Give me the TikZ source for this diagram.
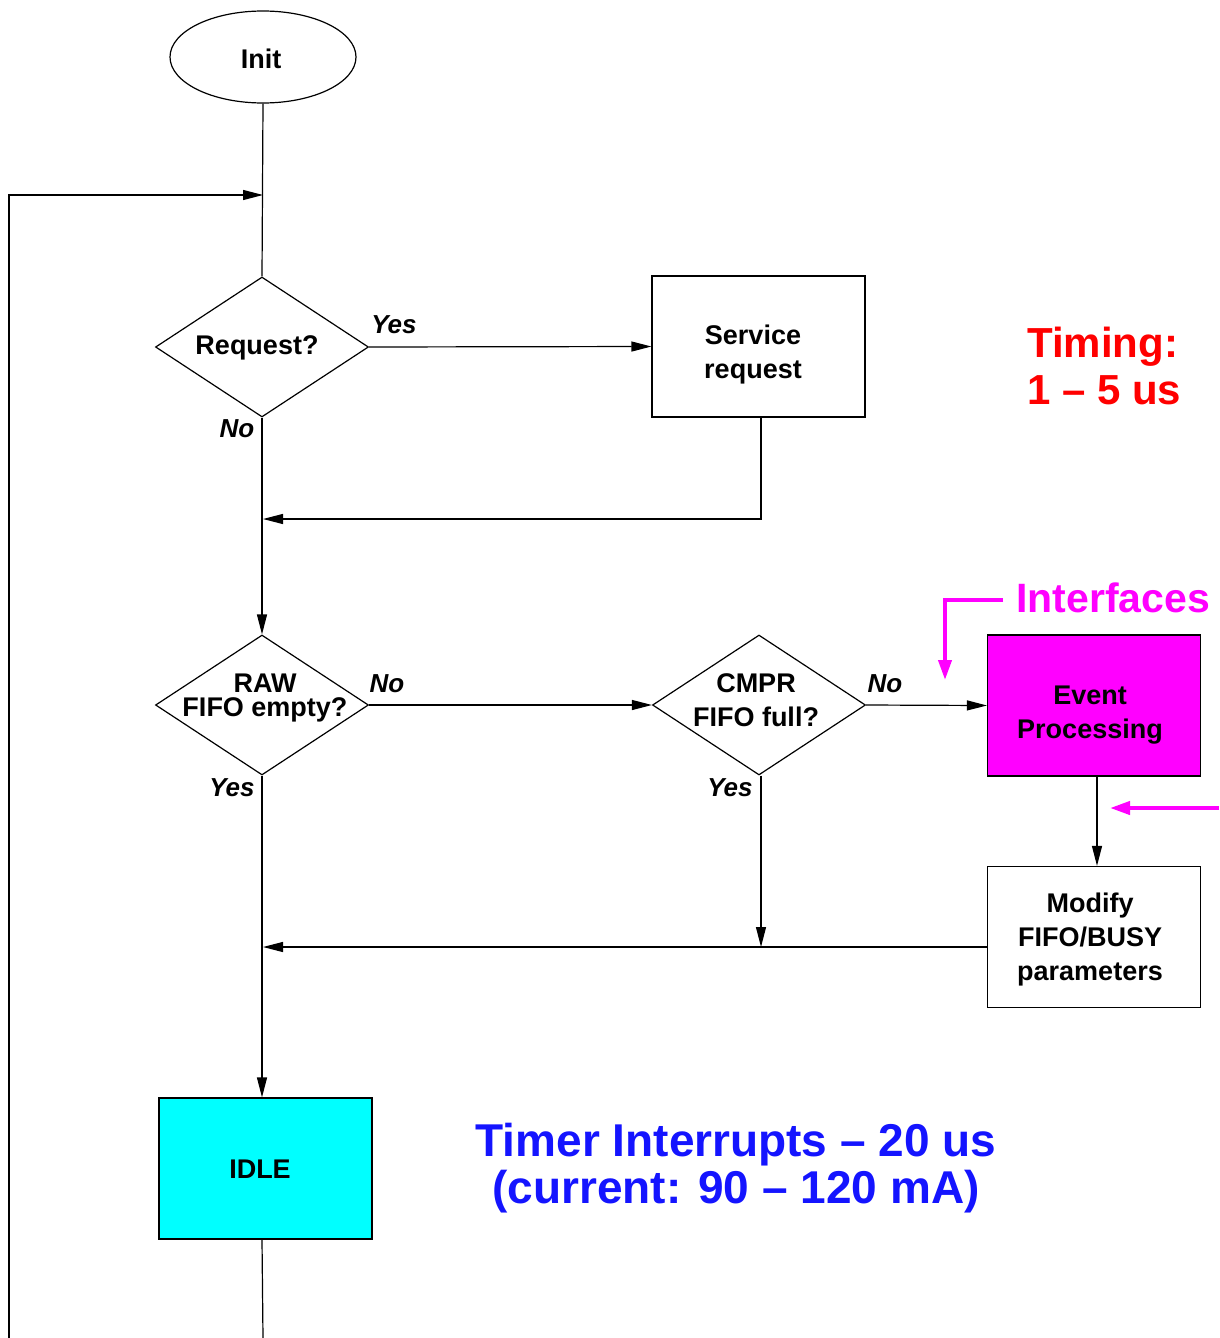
\documentclass[tikz,border=0pt]{standalone}
\usepackage{fontspec}
\setmainfont{Liberation Sans}
\usetikzlibrary{shapes.geometric,arrows.meta}
\definecolor{mag}{RGB}{255,0,255}
\definecolor{cy}{RGB}{0,255,255}
\definecolor{rd}{RGB}{255,0,0}
\definecolor{bl}{RGB}{20,20,255}
\tikzset{
  line/.style={line width=1.2pt},
  arr/.style={line width=1.2pt,-{Triangle[length=20pt,width=10pt]}},
  marr/.style={line width=4pt,mag,-{Triangle[length=20pt,width=13pt]}},
  box/.style={draw,line width=1.2pt,minimum width=213pt,minimum height=141pt,inner sep=0pt},
  dia/.style={draw,diamond,line width=1.2pt,minimum width=213pt,minimum height=140pt,inner sep=0pt},
  dtext/.style={font=\fontsize{27}{34}\selectfont\bfseries,align=center,inner sep=0pt},
  lab/.style={font=\fontsize{26}{30}\selectfont\bfseries\itshape,inner sep=0pt}
}
\begin{document}
\begin{tikzpicture}[x=1pt,y=-1pt]
\useasboundingbox[fill=white] (0,0) rectangle (1219,1338);
% nodes
\node[draw,ellipse,line width=1.2pt,minimum width=186pt,minimum height=92pt] (init) at (263,57) {};
\node[dtext] (initt) at (261,59) {Init};
\node[dia] (req) at (262,347) {};
\node[dtext] (reqt) at (257,348) {Request?};
\node[box] (svc) at (758.5,346.5) {};
\node[dtext] (svct) at (753,355) {Service\\request};
\node[dia] (raw) at (262,705) {};
\node[dtext,font=\fontsize{27}{24}\selectfont\bfseries] (rawt) at (265,698) {RAW\\FIFO empty?};
\node[dia] (cmpr) at (759,705) {};
\node[dtext] (cmprt) at (756,700) {CMPR\\FIFO full?};
\node[box,fill=mag] (ev) at (1094,705.5) {};
\node[dtext] (evt) at (1090,715) {Event\\Processing};
\node[box] (mod) at (1094,937) {};
\node[dtext] (modt) at (1090,940) {Modify\\FIFO/BUSY\\parameters};
\node[box,fill=cy] (idle) at (265.5,1168.5) {};
\node[dtext] (idlet) at (260,1169) {IDLE};
% labels
\node[lab] (y1) at (394,325) {Yes};
\node[lab] (n1) at (237,429) {No};
\node[lab] (n2) at (387,684) {No};
\node[lab] (y2) at (232,788) {Yes};
\node[lab] (n3) at (885,684) {No};
\node[lab] (y3) at (730,788) {Yes};
% coloured texts
\node[font=\fontsize{42}{47}\selectfont\bfseries,text=rd,align=left,anchor=west,inner sep=0pt] (timing) at (1027,366) {Timing:\\1 -- 5 us};
\node[font=\fontsize{41}{47}\selectfont\bfseries,text=mag,inner sep=0pt] (intf) at (1113,598) {Interfaces};
\node[font=\fontsize{46}{47}\selectfont\bfseries,text=bl,align=center,inner sep=0pt] (timer) at (736,1168) {Timer Interrupts -- 20 us\\(current: 90 -- 120 mA)};
% coordinates
\coordinate (loopB) at (9,1338);
\coordinate (loopT) at (9,195);
\coordinate (loopE) at (263,195);
\coordinate (m1) at (263,519);
\coordinate (m2) at (263,947);
\coordinate (m3) at (761,947);
\coordinate (bot) at (263,1338);
\coordinate (ma1) at (1003,600);
\coordinate (ma2) at (945,600);
\coordinate (ma3) at (945,680);
\coordinate (mb1) at (1219,808);
\coordinate (mb2) at (1110,808);
% connectors
\draw[line] (init.south) -- (req.north);
\draw[arr] (loopB) -- (loopT) -- (loopE);
\draw[arr] (req.east) -- (svc.west);
\draw[arr] ([xshift=2.5pt]svc.south) |- (m1);
\draw[arr] (req.south) -- (raw.north);
\draw[arr] (raw.east) -- (cmpr.west);
\draw[arr] (cmpr.east) -- (ev.west);
\draw[arr] ([xshift=3pt]ev.south) -- ([xshift=3pt]mod.north);
\draw[arr] (mod.west |- m2) -- (m2);
\draw[arr] ([xshift=2pt]cmpr.south) -- (m3);
\draw[arr] (raw.south) -- (idle.north -| raw.south);
\draw[line] (idle.south -| raw.south) -- (bot);
\draw[marr] (ma1) -- (ma2) -- (ma3);
\draw[marr] (mb1) -- (mb2);
\end{tikzpicture}
\end{document}
